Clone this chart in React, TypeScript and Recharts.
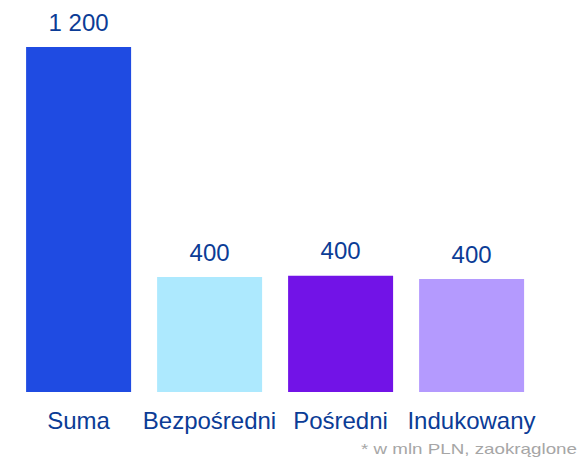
import React from 'react';
import { BarChart, Bar, XAxis, YAxis, Cell, LabelList } from 'recharts';

const categories = ['Suma', 'Bezpośredni', 'Pośredni', 'Indukowany'];
const values = [1200, 400, 404, 393];
const valueLabels = ['1 200', '400', '400', '400'];
const barColors = ['#1F4BE2', '#ADE9FE', '#7213E7', '#B49AFE'];
const footnote = '* w mln PLN, zaokrąglone';

const TEXT_COLOR = '#0B3C96';
const FONT = '"Liberation Sans", Arial, sans-serif';

const chartData = categories.map((name, i) => ({
  name,
  value: values[i],
  label: valueLabels[i],
}));

export default function App() {
  return (
    <div style={{ position: 'absolute', left: 0, top: 0, width: 578, height: 458 }}>
      <BarChart
        width={578}
        height={458}
        data={chartData}
        margin={{ top: 47, right: 41, bottom: 26, left: 13 }}
        barCategoryGap="10%"
      >
        <XAxis
          dataKey="name"
          height={40}
          axisLine={false}
          tickLine={false}
          tickSize={0}
          tickMargin={20}
          interval={0}
          tick={{ fill: TEXT_COLOR, fontSize: 24, fontFamily: FONT }}
        />
        <YAxis hide domain={[0, 1200]} />
        <Bar dataKey="value" isAnimationActive={false}>
          {chartData.map((d, i) => (
            <Cell key={d.name} fill={barColors[i]} />
          ))}
          <LabelList
            dataKey="label"
            position="top"
            offset={16.5}
            fill={TEXT_COLOR}
            style={{ fontSize: 24, fontFamily: FONT }}
          />
        </Bar>
      </BarChart>
      {/* przypis pod wykresem */}
      <svg
        width={578}
        height={458}
        style={{ position: 'absolute', left: 0, top: 0, pointerEvents: 'none' }}
      >
        <text
          x={361}
          y={453.5}
          fill="#A6A6A6"
          fontSize={15}
          fontFamily={FONT}
          textLength={216}
          lengthAdjust="spacingAndGlyphs"
        >
          {footnote}
        </text>
      </svg>
    </div>
  );
}
